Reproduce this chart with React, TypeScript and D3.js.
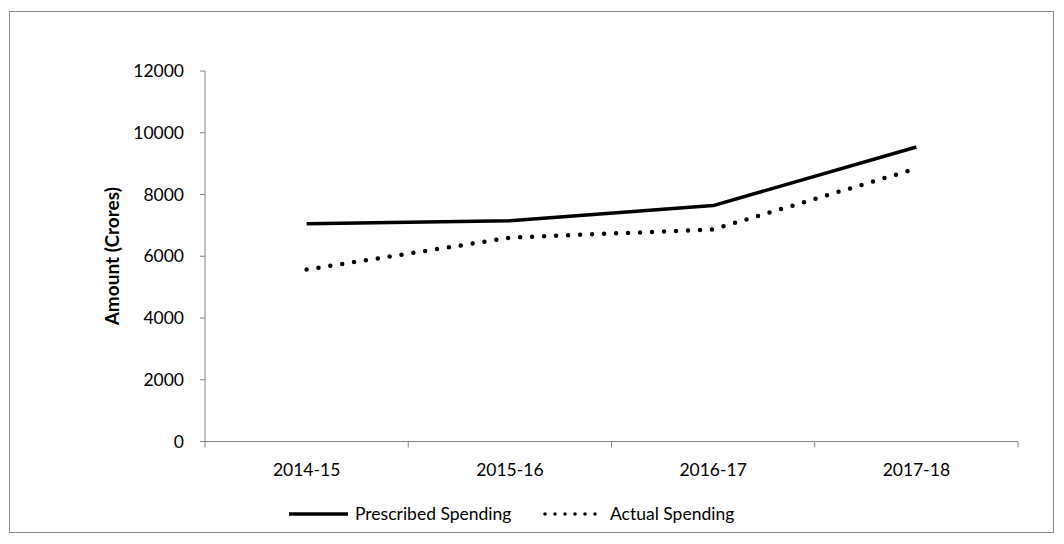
import React from "react";
import * as d3 from "d3";

const years = ["2014-15", "2015-16", "2016-17", "2017-18"];
const prescribed = [7050, 7150, 7640, 9540];
const actual = [5570, 6600, 6870, 8840];
const yTicks = [0, 2000, 4000, 6000, 8000, 10000, 12000];

const W = 1064, H = 544;
const left = 205, right = 1018, top = 71, bottom = 441.5;
const FONT = "Lato, 'Open Sans', sans-serif";
const FS = 17.5;

export default function App() {
  const x = d3.scaleBand().domain(years).range([left, right]).padding(0);
  const y = d3.scaleLinear().domain([0, 12000]).range([bottom, top]);
  const line = d3.line<number>()
    .x((_, i) => (x(years[i]) as number) + x.bandwidth() / 2)
    .y((d) => y(d));
  const tickXs = years.map((yr) => x(yr) as number).concat([right]);
  const axisColor = "#868686";
  return (
    <svg width={W} height={H} style={{ position: "absolute", left: 0, top: 0, fontFamily: FONT }}>
      <rect x={0} y={0} width={W} height={H} fill="white" />
      <rect x={9.5} y={11.5} width={1044} height={521} fill="none" stroke="#8c8c8c" strokeWidth={1} />
      {/* y axis */}
      <line x1={left} x2={left} y1={top} y2={bottom} stroke={axisColor} strokeWidth={1} />
      {yTicks.map((t) => (
        <g key={t}>
          <line x1={left - 5} x2={left} y1={y(t)} y2={y(t)} stroke={axisColor} />
          <text x={left - 21} y={y(t)} dy="0.35em" textAnchor="end" fontSize={FS} fill="#000">{t}</text>
        </g>
      ))}
      {/* x axis */}
      <line x1={left - 5} x2={right} y1={bottom} y2={bottom} stroke={axisColor} strokeWidth={1} />
      {tickXs.map((tx, i) => (
        <line key={i} x1={tx} x2={tx} y1={bottom} y2={bottom + 6} stroke={axisColor} />
      ))}
      {years.map((yr) => (
        <text key={yr} x={(x(yr) as number) + x.bandwidth() / 2} y={bottom + 28} dy="0.35em" textAnchor="middle" fontSize={FS} fill="#000">{yr}</text>
      ))}
      <text transform={`translate(119,${(top + bottom) / 2}) rotate(-90)`} textAnchor="middle" fontSize={19} fontWeight="bold" fill="#000">Amount (Crores)</text>
      {/* series */}
      <path d={line(prescribed) || ""} fill="none" stroke="#000" strokeWidth={3.5} strokeLinejoin="round" />
      <path d={line(actual) || ""} fill="none" stroke="#000" strokeWidth={4.5} strokeLinecap="round" strokeDasharray="0 12" />
      {/* legend */}
      <line x1={289} x2={348} y1={514} y2={514} stroke="#000" strokeWidth={3.5} />
      <text x={355} y={514} dy="0.35em" fontSize={FS} fill="#000">Prescribed Spending</text>
      <line x1={545} x2={600} y1={514} y2={514} stroke="#000" strokeWidth={3.5} strokeLinecap="round" strokeDasharray="0 10" />
      <text x={610} y={514} dy="0.35em" fontSize={FS} fill="#000">Actual Spending</text>
    </svg>
  );
}
